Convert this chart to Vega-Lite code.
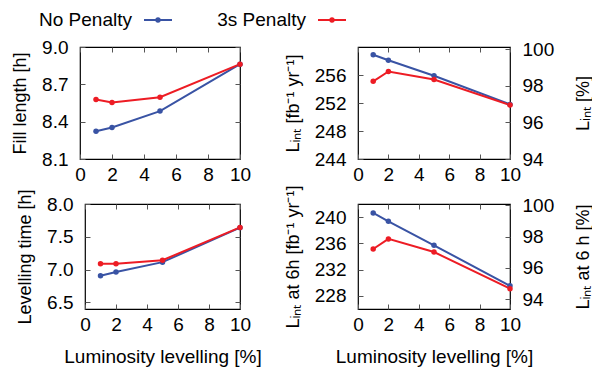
{
  "$schema": "https://vega.github.io/schema/vega-lite/v6.json",
  "autosize": {"type": "pad"},
  "padding": {"left": 10, "top": 5, "right": 0, "bottom": 0},
  "background": "white",
  "config": {
    "font": "Liberation Sans",
    "view": {"stroke": "black", "strokeWidth": 1.2},
    "axis": {
      "grid": false, "domain": false, "tickColor": "#555", "tickSize": -5, "tickWidth": 1,
      "labelFontSize": 19, "titleFontSize": 18, "titleFontWeight": "normal",
      "labelColor": "black", "titleColor": "black", "labelFlush": false, "labelBound": false,
      "labelOverlap": false, "labelPadding": 17
    },
    "axisX": {"labelPadding": 11},
    "legend": {
      "orient": "none", "legendX": 63, "legendY": -42, "direction": "horizontal", "title": null,
      "labelFontSize": 19, "labelColor": "black", "labelAlign": "right", "labelOffset": -41,
      "symbolType": "M-1,0H1M-0.12,0A0.12,0.12 0 1,0 0.12,0A0.12,0.12 0 1,0 -0.12,0Z",
      "symbolSize": 784, "symbolStrokeWidth": 2, "columnPadding": 41
    }
  },
  "datasets": {
    "fill": [
      {"lev": 1, "val": 8.323, "series": "No Penalty"},
      {"lev": 2, "val": 8.353, "series": "No Penalty"},
      {"lev": 5, "val": 8.485, "series": "No Penalty"},
      {"lev": 10, "val": 8.862, "series": "No Penalty"},
      {"lev": 1, "val": 8.578, "series": "3s Penalty"},
      {"lev": 2, "val": 8.554, "series": "3s Penalty"},
      {"lev": 5, "val": 8.596, "series": "3s Penalty"},
      {"lev": 10, "val": 8.862, "series": "3s Penalty"}
    ],
    "levt": [
      {"lev": 1, "val": 6.906, "series": "No Penalty"},
      {"lev": 2, "val": 6.963, "series": "No Penalty"},
      {"lev": 5, "val": 7.114, "series": "No Penalty"},
      {"lev": 10, "val": 7.64, "series": "No Penalty"},
      {"lev": 1, "val": 7.091, "series": "3s Penalty"},
      {"lev": 2, "val": 7.091, "series": "3s Penalty"},
      {"lev": 5, "val": 7.143, "series": "3s Penalty"},
      {"lev": 10, "val": 7.643, "series": "3s Penalty"}
    ],
    "lint": [
      {"lev": 1, "val": 258.9, "series": "No Penalty"},
      {"lev": 2, "val": 258.1, "series": "No Penalty"},
      {"lev": 5, "val": 255.9, "series": "No Penalty"},
      {"lev": 10, "val": 251.8, "series": "No Penalty"},
      {"lev": 1, "val": 255.1, "series": "3s Penalty"},
      {"lev": 2, "val": 256.5, "series": "3s Penalty"},
      {"lev": 5, "val": 255.35, "series": "3s Penalty"},
      {"lev": 10, "val": 251.7, "series": "3s Penalty"}
    ],
    "lint6": [
      {"lev": 1, "val": 240.64, "series": "No Penalty"},
      {"lev": 2, "val": 239.37, "series": "No Penalty"},
      {"lev": 5, "val": 235.7, "series": "No Penalty"},
      {"lev": 10, "val": 229.54, "series": "No Penalty"},
      {"lev": 1, "val": 235.14, "series": "3s Penalty"},
      {"lev": 2, "val": 236.68, "series": "3s Penalty"},
      {"lev": 5, "val": 234.68, "series": "3s Penalty"},
      {"lev": 10, "val": 229.09, "series": "3s Penalty"}
    ]
  },
  "bounds": "flush",
  "spacing": 278,
  "hconcat": [
    {
      "bounds": "flush",
      "spacing": 45,
      "vconcat": [
        {
          "width": 160, "height": 112,
          "data": {"name": "fill"},
          "layer": [
            {
              "mark": {"type": "line", "strokeWidth": 2},
              "encoding": {
                "x": {"field": "lev", "type": "quantitative", "scale": {"domain": [0, 10]}, "axis": {"values": [0, 2, 4, 6, 8, 10], "title": null}},
                "y": {"field": "val", "type": "quantitative", "scale": {"domain": [8.1, 9.0]}, "axis": {"values": [8.1, 8.4, 8.7, 9.0], "format": ".1f", "title": "Fill length [h]", "titlePadding": 12}},
                "color": {"field": "series", "type": "nominal", "scale": {"domain": ["No Penalty", "3s Penalty"], "range": ["#3953a4", "#ed1c24"]}}
              }
            },
            {
              "mark": {"type": "point", "filled": true, "size": 30, "opacity": 1},
              "encoding": {
                "x": {"field": "lev", "type": "quantitative", "axis": null},
                "y": {"field": "val", "type": "quantitative", "axis": null},
                "color": {"field": "series", "type": "nominal"}
              }
            },
            {
              "data": {"values": []},
              "mark": {"type": "point", "opacity": 0},
              "encoding": {
                "x": {"field": "lev", "type": "quantitative", "axis": {"orient": "top", "values": [0, 2, 4, 6, 8, 10], "labels": false, "title": null}},
                "y": {"field": "val", "type": "quantitative", "axis": {"orient": "right", "values": [8.1, 8.4, 8.7, 9.0], "labels": false, "title": null}}
              }
            }
          ],
          "resolve": {"axis": {"x": "independent", "y": "independent"}}
        },
        {
          "bounds": "flush",
          "spacing": 0,
          "hconcat": [
            {
              "width": 5, "height": 105, "view": {"stroke": null},
              "data": {"values": []},
              "mark": "point",
              "encoding": {}
            },
            {
              "width": 155, "height": 105,
              "data": {"name": "levt"},
              "layer": [
                {
                  "mark": {"type": "line", "strokeWidth": 2},
                  "encoding": {
                    "x": {"field": "lev", "type": "quantitative", "scale": {"domain": [0, 10]}, "axis": {"values": [0, 2, 4, 6, 8, 10], "title": "Luminosity levelling [%]", "titleFontSize": 19, "titlePadding": 13}},
                    "y": {"field": "val", "type": "quantitative", "scale": {"domain": [6.5, 8.0]}, "axis": {"values": [6.5, 7.0, 7.5, 8.0], "format": ".1f", "title": "Levelling time [h]", "titlePadding": 12}},
                    "color": {"field": "series", "type": "nominal"}
                  }
                },
                {
                  "mark": {"type": "point", "filled": true, "size": 30, "opacity": 1},
                  "encoding": {
                    "x": {"field": "lev", "type": "quantitative", "axis": null},
                    "y": {"field": "val", "type": "quantitative", "axis": null},
                    "color": {"field": "series", "type": "nominal"}
                  }
                },
                {
                  "data": {"values": []},
                  "mark": {"type": "point", "opacity": 0},
                  "encoding": {
                    "x": {"field": "lev", "type": "quantitative", "axis": {"orient": "top", "values": [0, 2, 4, 6, 8, 10], "labels": false, "title": null}},
                    "y": {"field": "val", "type": "quantitative", "axis": {"orient": "right", "values": [6.5, 7.0, 7.5, 8.0], "labels": false, "title": null}}
                  }
                }
              ],
              "resolve": {"axis": {"x": "independent", "y": "independent"}}
            }
          ]
        }
      ]
    },
    {
      "bounds": "flush",
      "spacing": 45,
      "vconcat": [
        {
          "width": 152, "height": 112,
          "data": {"name": "lint"},
          "layer": [
            {
              "mark": {"type": "line", "strokeWidth": 2},
              "encoding": {
                "x": {"field": "lev", "type": "quantitative", "scale": {"domain": [0, 10]}, "axis": {"values": [0, 2, 4, 6, 8, 10], "title": null}},
                "y": {"field": "val", "type": "quantitative", "scale": {"domain": [244, 259.7]}, "axis": {"values": [244, 248, 252, 256], "title": "Lᵢₙₜ [fb⁻¹ yr⁻¹]", "titlePadding": 12}},
                "color": {"field": "series", "type": "nominal"}
              }
            },
            {
              "mark": {"type": "point", "filled": true, "size": 30, "opacity": 1},
              "encoding": {
                "x": {"field": "lev", "type": "quantitative", "axis": null},
                "y": {"field": "val", "type": "quantitative", "axis": null},
                "color": {"field": "series", "type": "nominal"}
              }
            },
            {
              "data": {"values": []},
              "mark": {"type": "point", "opacity": 0},
              "encoding": {
                "x": {"field": "lev", "type": "quantitative", "axis": {"orient": "top", "values": [0, 2, 4, 6, 8, 10], "labels": false, "title": null}},
                "y": {"field": "val", "type": "quantitative", "axis": {"orient": "right", "values": [244, 249.2333, 254.4667, 259.7], "labelExpr": "format(94 + (datum.value - 244) * 6 / 15.7, '.0f')", "title": "Lᵢₙₜ [%]", "titleAngle": 270, "titleBaseline": "top", "titlePadding": 21}}
              }
            }
          ],
          "resolve": {"axis": {"x": "independent", "y": "independent"}}
        },
        {
          "width": 152, "height": 105,
          "data": {"name": "lint6"},
          "layer": [
            {
              "mark": {"type": "line", "strokeWidth": 2},
              "encoding": {
                "x": {"field": "lev", "type": "quantitative", "scale": {"domain": [0, 10]}, "axis": {"values": [0, 2, 4, 6, 8, 10], "title": "Luminosity levelling [%]", "titleFontSize": 19, "titlePadding": 13}},
                "y": {"field": "val", "type": "quantitative", "scale": {"domain": [227.5, 241.8]}, "axis": {"values": [228, 232, 236, 240], "title": "Lᵢₙₜ at 6h [fb⁻¹ yr⁻¹]", "titlePadding": 12}},
                "color": {"field": "series", "type": "nominal"}
              }
            },
            {
              "mark": {"type": "point", "filled": true, "size": 30, "opacity": 1},
              "encoding": {
                "x": {"field": "lev", "type": "quantitative", "axis": null},
                "y": {"field": "val", "type": "quantitative", "axis": null},
                "color": {"field": "series", "type": "nominal"}
              }
            },
            {
              "data": {"values": []},
              "mark": {"type": "point", "opacity": 0},
              "encoding": {
                "x": {"field": "lev", "type": "quantitative", "axis": {"orient": "top", "values": [0, 2, 4, 6, 8, 10], "labels": false, "title": null}},
                "y": {"field": "val", "type": "quantitative", "axis": {"orient": "right", "values": [227.5, 232.2667, 237.0333, 241.8], "labelExpr": "format(94 + (datum.value - 227.5) * 6 / 14.3, '.0f')", "title": "Lᵢₙₜ at 6 h [%]", "titleAngle": 270, "titleBaseline": "top", "titlePadding": 21}}
              }
            }
          ],
          "resolve": {"axis": {"x": "independent", "y": "independent"}}
        }
      ]
    }
  ]
}
